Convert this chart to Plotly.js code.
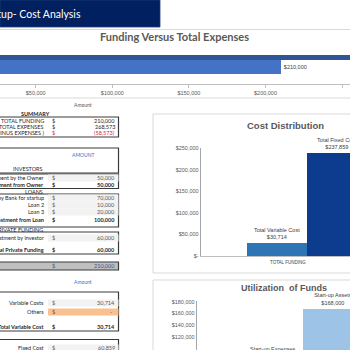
<!DOCTYPE html>
<html><head><meta charset="utf-8">
<script src="https://cdn.plot.ly/plotly-3.0.1.min.js"></script>
<style>html,body{margin:0;padding:0;background:#fff}#chart{width:350px;height:350px}</style>
</head><body><div id="chart"></div>
<script>
// ---------- data ----------
const fundingCategories = ['TOTAL FUNDING', 'TOTAL EXPENSES'];
const fundingValues = [210000, 268573];
const fundingTicks = [50000, 100000, 150000, 200000, 250000];
const fundingTickText = ['$50,000', '$100,000', '$150,000', '$200,000', '$250,000'];

const summaryLabels = ['TOTAL FUNDING', 'TOTAL EXPENSES', '(FUNDING MINUS EXPENSES )'];
const summaryValues = [210000, 268573, -58573];

const investorLabels = ['Investment by the Owner'];
const investorValues = [50000];
const loanLabels = ['Loan by Bank for startup', 'Loan 2', 'Loan 3'];
const loanValues = [70000, 10000, 20000];
const privateLabels = ['Investment by investor'];
const privateValues = [60000];
const grandTotal = 210000;

const variableLabels = ['Variable Costs', 'Others'];
const variableValues = [30714, 0];
const fixedLabels = ['Fixed Cost'];
const fixedValues = [60859];

const costCategories = ['TOTAL FUNDING'];
const variableCost = [30714];
const fixedCost = [237859];
const costTicks = [0, 50000, 100000, 150000, 200000, 250000];
const costTickText = ['$-', '$50,000', '$100,000', '$150,000', '$200,000', '$250,000'];

const utilCategories = ['FUNDS'];
const startupExpenses = [73000];
const startupAssets = [168000];
const utilTicks = [120000, 140000, 160000, 180000];
const utilTickText = ['$120,000', '$140,000', '$160,000', '$180,000'];

// ---------- helpers ----------
const W = 350, H = 350;
const px = x => x / W;
const py = y => 1 - y / H;
const fmt = v => v === 0 ? '-' : (v < 0 ? '(' + Math.abs(v).toLocaleString('en-US') + ')' : v.toLocaleString('en-US'));
const money = v => '$' + v.toLocaleString('en-US');

const annotations = [];
const shapes = [];
function txt(x, y, text, o = {}) {
  annotations.push({
    xref: 'paper', yref: 'paper', x: px(x), y: py(y), text: text, showarrow: false,
    xanchor: o.anchor || 'center', yanchor: 'middle',
    font: { family: o.family || 'Lato, "Noto Sans", sans-serif', size: o.size || 5.5, color: o.color || '#262626' }
  });
}
function rect(x0, y0, x1, y1, fill, line, lw) {
  shapes.push({ type: 'rect', xref: 'paper', yref: 'paper', x0: px(x0), x1: px(x1), y0: py(y1), y1: py(y0),
    fillcolor: fill || 'rgba(0,0,0,0)', line: { color: line || 'rgba(0,0,0,0)', width: lw === undefined ? 1.2 : lw }, layer: 'below' });
}
function hline(x0, x1, y, color, w) {
  shapes.push({ type: 'line', xref: 'paper', yref: 'paper', x0: px(x0), x1: px(x1), y0: py(y), y1: py(y), line: { color: color, width: w || 1 }, layer: 'below' });
}
const LX = 46, DX = 53, VX = 117, BOXL = -2, BOXR = 118.5, BORDER = '#3a3a3a';
function row(y, label, value, o = {}) {
  if (o.fill) rect(48, y - 3.5, BOXR, y + 3.5, o.fill, null, 0);
  const b = s => o.bold ? '<b>' + s + '</b>' : s;
  txt(LX, y, b(label), { anchor: 'right', color: o.labelColor });
  txt(DX, y, b('$'), { color: o.valColor });
  txt(o.dash && value === 0 ? VX - 3 : VX, y, b(fmt(value)), { anchor: 'right', color: o.valColor });
}
const sum = a => a.reduce((s, v) => s + v, 0);

// ---------- header & frame ----------
rect(0, 0, 160, 27, '#002060', '#1f3f7a', 0.8);
txt(83, 13.5, 'Startup- Cost Analysis', { anchor: 'right', size: 10.5, color: '#ffffff' });
hline(0, 350, 29.5, '#d9d9d9', 1);
txt(174, 36.5, '<b>Funding Versus Total Expenses</b>', { size: 11, color: '#595959' });
hline(0, 350, 98, '#d9d9d9', 1);

// ---------- summary ----------
txt(83, 105, 'Amount', { color: '#595959', size: 5 });
txt(35, 113.5, '<b>SUMMARY</b>', { color: '#262626' });
rect(BOXL, 117, BOXR, 137, null, BORDER, 1.2);
summaryLabels.forEach((l, i) => {
  const neg = summaryValues[i] < 0;
  row([120.5, 126.5, 133][i], l, summaryValues[i], neg ? { valColor: '#d6283b', bold: false } : {});
});

// ---------- funding table ----------
rect(BOXL, 148, BOXR, 173, null, BORDER, 1.2);
txt(83, 155, 'AMOUNT', { color: '#4472c4', size: 5 });
txt(45, 169, 'INVESTORS', { anchor: 'right' });
rect(BOXL, 174, BOXR, 188.5, null, BORDER, 1.2);
investorLabels.forEach((l, i) => row(178 + i * 7, l, investorValues[i], { fill: '#f2f2f2', valColor: '#595959' }));
row(185, 'Total Investment from Owner', sum(investorValues), { bold: true });
txt(45, 191.5, 'LOANS', { anchor: 'right' });
rect(BOXL, 194, BOXR, 227, null, BORDER, 1.2);
loanLabels.forEach((l, i) => row(198 + i * 7, l, loanValues[i], { fill: '#f2f2f2', valColor: '#595959' }));
row(219.5, 'Total Investment from Loan', sum(loanValues), { bold: true });
txt(45, 229.5, 'PRIVATE FUNDING', { anchor: 'right' });
rect(BOXL, 232, BOXR, 254, null, BORDER, 1.2);
privateLabels.forEach((l, i) => row(238 + i * 7, l, privateValues[i], { fill: '#f2f2f2', valColor: '#595959' }));
row(250, 'Total Private Funding', sum(privateValues), { bold: true });
rect(BOXL, 262, BOXR, 270, '#bfbfbf', BORDER, 1.2);
txt(DX, 266, '$', { color: '#2f5597' });
txt(VX, 266, fmt(grandTotal), { anchor: 'right', color: '#2f5597' });

// ---------- cost tables ----------
txt(83, 282, 'Amount', { color: '#4472c4', size: 5 });
rect(BOXL, 292, BOXR, 331, null, BORDER, 1.2);
row(303, variableLabels[0], variableValues[0], { fill: '#f2f2f2', valColor: '#595959' });
row(312, variableLabels[1], variableValues[1], { fill: '#fac08f', valColor: '#595959', dash: true });
row(327, 'Total Variable Cost', sum(variableValues), { bold: true });
rect(BOXL, 339.5, BOXR, 362, null, BORDER, 1.2);
fixedLabels.forEach((l, i) => row(348 + i * 7, l, fixedValues[i], { fill: '#f2f2f2', valColor: '#595959' }));

// ---------- chart frames ----------
rect(153, 114, 352, 273, null, '#d9d9d9', 1);
rect(153, 280, 352, 362, null, '#d9d9d9', 1);
txt(285, 125.5, '<b>Cost Distribution</b>', { family: 'Arial, "Liberation Sans", sans-serif', size: 9.5, color: '#595959' });
txt(284, 287.5, '<b>Utilization&nbsp;&nbsp;of Funds</b>', { family: 'Arial, "Liberation Sans", sans-serif', size: 9, color: '#595959' });
txt(288, 262, 'TOTAL FUNDING', { family: 'Arial, "Liberation Sans", sans-serif', size: 4.5, color: '#404040' });

// ---------- traces ----------
const labelFont = { family: 'Arial, "Liberation Sans", sans-serif', size: 5.5, color: '#404040' };
const tickFont = { family: 'Arial, "Liberation Sans", sans-serif', size: 5.5, color: '#595959' };

const data = [
  { type: 'bar', orientation: 'h', y: fundingCategories, x: fundingValues,
    marker: { color: ['#4472c4', '#2f5597'], line: { width: 0 } },
    text: fundingValues.map(money), textposition: 'outside', textfont: labelFont, constraintext: 'none',
    cliponaxis: true, xaxis: 'x', yaxis: 'y', hoverinfo: 'skip' },
  { type: 'bar', name: 'Total Variable Cost', x: costCategories, y: variableCost,
    marker: { color: '#2e75b6' }, text: variableCost.map(v => 'Total Variable Cost<br>' + money(v)),
    textposition: 'outside', textfont: labelFont, constraintext: 'none', cliponaxis: false, xaxis: 'x2', yaxis: 'y2' },
  { type: 'bar', name: 'Total Fixed Cost', x: costCategories, y: fixedCost,
    marker: { color: '#0d3b8e' }, text: fixedCost.map(v => 'Total Fixed Cost<br>' + money(v)),
    textposition: 'outside', textfont: labelFont, constraintext: 'none', cliponaxis: false, xaxis: 'x2', yaxis: 'y2' },
  { type: 'bar', name: 'Start-up Expenses', x: utilCategories, y: startupExpenses,
    marker: { color: '#2e75b6' }, textposition: 'none', cliponaxis: true, xaxis: 'x3', yaxis: 'y3' },
  { type: 'bar', name: 'Start-up Assets', x: utilCategories, y: startupAssets,
    marker: { color: '#9dc3e6' }, text: startupAssets.map(v => 'Start-up Assets<br>' + money(v)),
    textposition: 'outside', textfont: labelFont, constraintext: 'none', cliponaxis: false, xaxis: 'x3', yaxis: 'y3' }
];

const layout = {
  width: 350, height: 350, margin: { l: 0, r: 0, t: 0, b: 0 },
  paper_bgcolor: '#ffffff', plot_bgcolor: 'rgba(0,0,0,0)',
  showlegend: false, barmode: 'group', bargap: 0, bargroupgap: 0,
  xaxis: { domain: [0, 1], anchor: 'y', range: [26700, 255150], tickvals: fundingTicks, ticktext: fundingTickText,
    tickfont: tickFont, showline: true, linecolor: '#bfbfbf', linewidth: 1, ticks: 'outside', ticklen: 3,
    tickcolor: '#bfbfbf', showgrid: false, zeroline: false, fixedrange: true },
  yaxis: { domain: [py(84), py(55)], anchor: 'x', type: 'category', range: [-1.214, 0.857],
    showticklabels: false, showline: false, showgrid: false, zeroline: false, ticks: '' },
  xaxis2: { domain: [px(200.7), 1], anchor: 'y2', type: 'category', range: [-0.886, 0.358],
    showticklabels: false, showline: true, linecolor: '#bfbfbf', ticks: '', showgrid: false, zeroline: false },
  yaxis2: { domain: [py(256), py(148)], anchor: 'x2', range: [0, 250000], tickvals: costTicks, ticktext: costTickText,
    tickfont: tickFont, showline: true, linecolor: '#a6a6a6', ticks: '', showgrid: false, zeroline: false },
  xaxis3: { domain: [px(196.7), 1], anchor: 'y3', type: 'category', range: [-0.886, 0.392],
    showticklabels: false, showline: false, ticks: '', showgrid: false, zeroline: false },
  yaxis3: { domain: [0, py(301)], anchor: 'x3', range: [97239, 181000], tickvals: utilTicks, ticktext: utilTickText,
    tickfont: tickFont, showline: true, linecolor: '#a6a6a6', ticks: '', showgrid: false, zeroline: false },
  annotations: annotations, shapes: shapes
};

Plotly.newPlot('chart', data, layout, { staticPlot: true, displayModeBar: false }).then(gd => {
  // label for the start-up expenses bar, placed through the library's own axis scales
  const xa = gd._fullLayout.xaxis3, ya = gd._fullLayout.yaxis3;
  const cd = gd.calcdata[3][0];
  const pc = (cd.p0 !== undefined && cd.p1 !== undefined) ? (cd.p0 + cd.p1) / 2 : cd.p - 0.25;
  const xPix = xa._offset + xa.c2p(pc);
  const yPix = ya._offset + ya.c2p(startupExpenses[0]);
  const ann = gd.layout.annotations.slice();
  ann.push({ xref: 'paper', yref: 'paper', x: xPix / W, y: 1 - (yPix - 3) / H, xanchor: 'center', yanchor: 'bottom',
    showarrow: false, text: 'Start-up Expenses<br>' + money(startupExpenses[0]), font: labelFont });
  return Plotly.relayout(gd, { annotations: ann });
});
</script>
</body></html>
